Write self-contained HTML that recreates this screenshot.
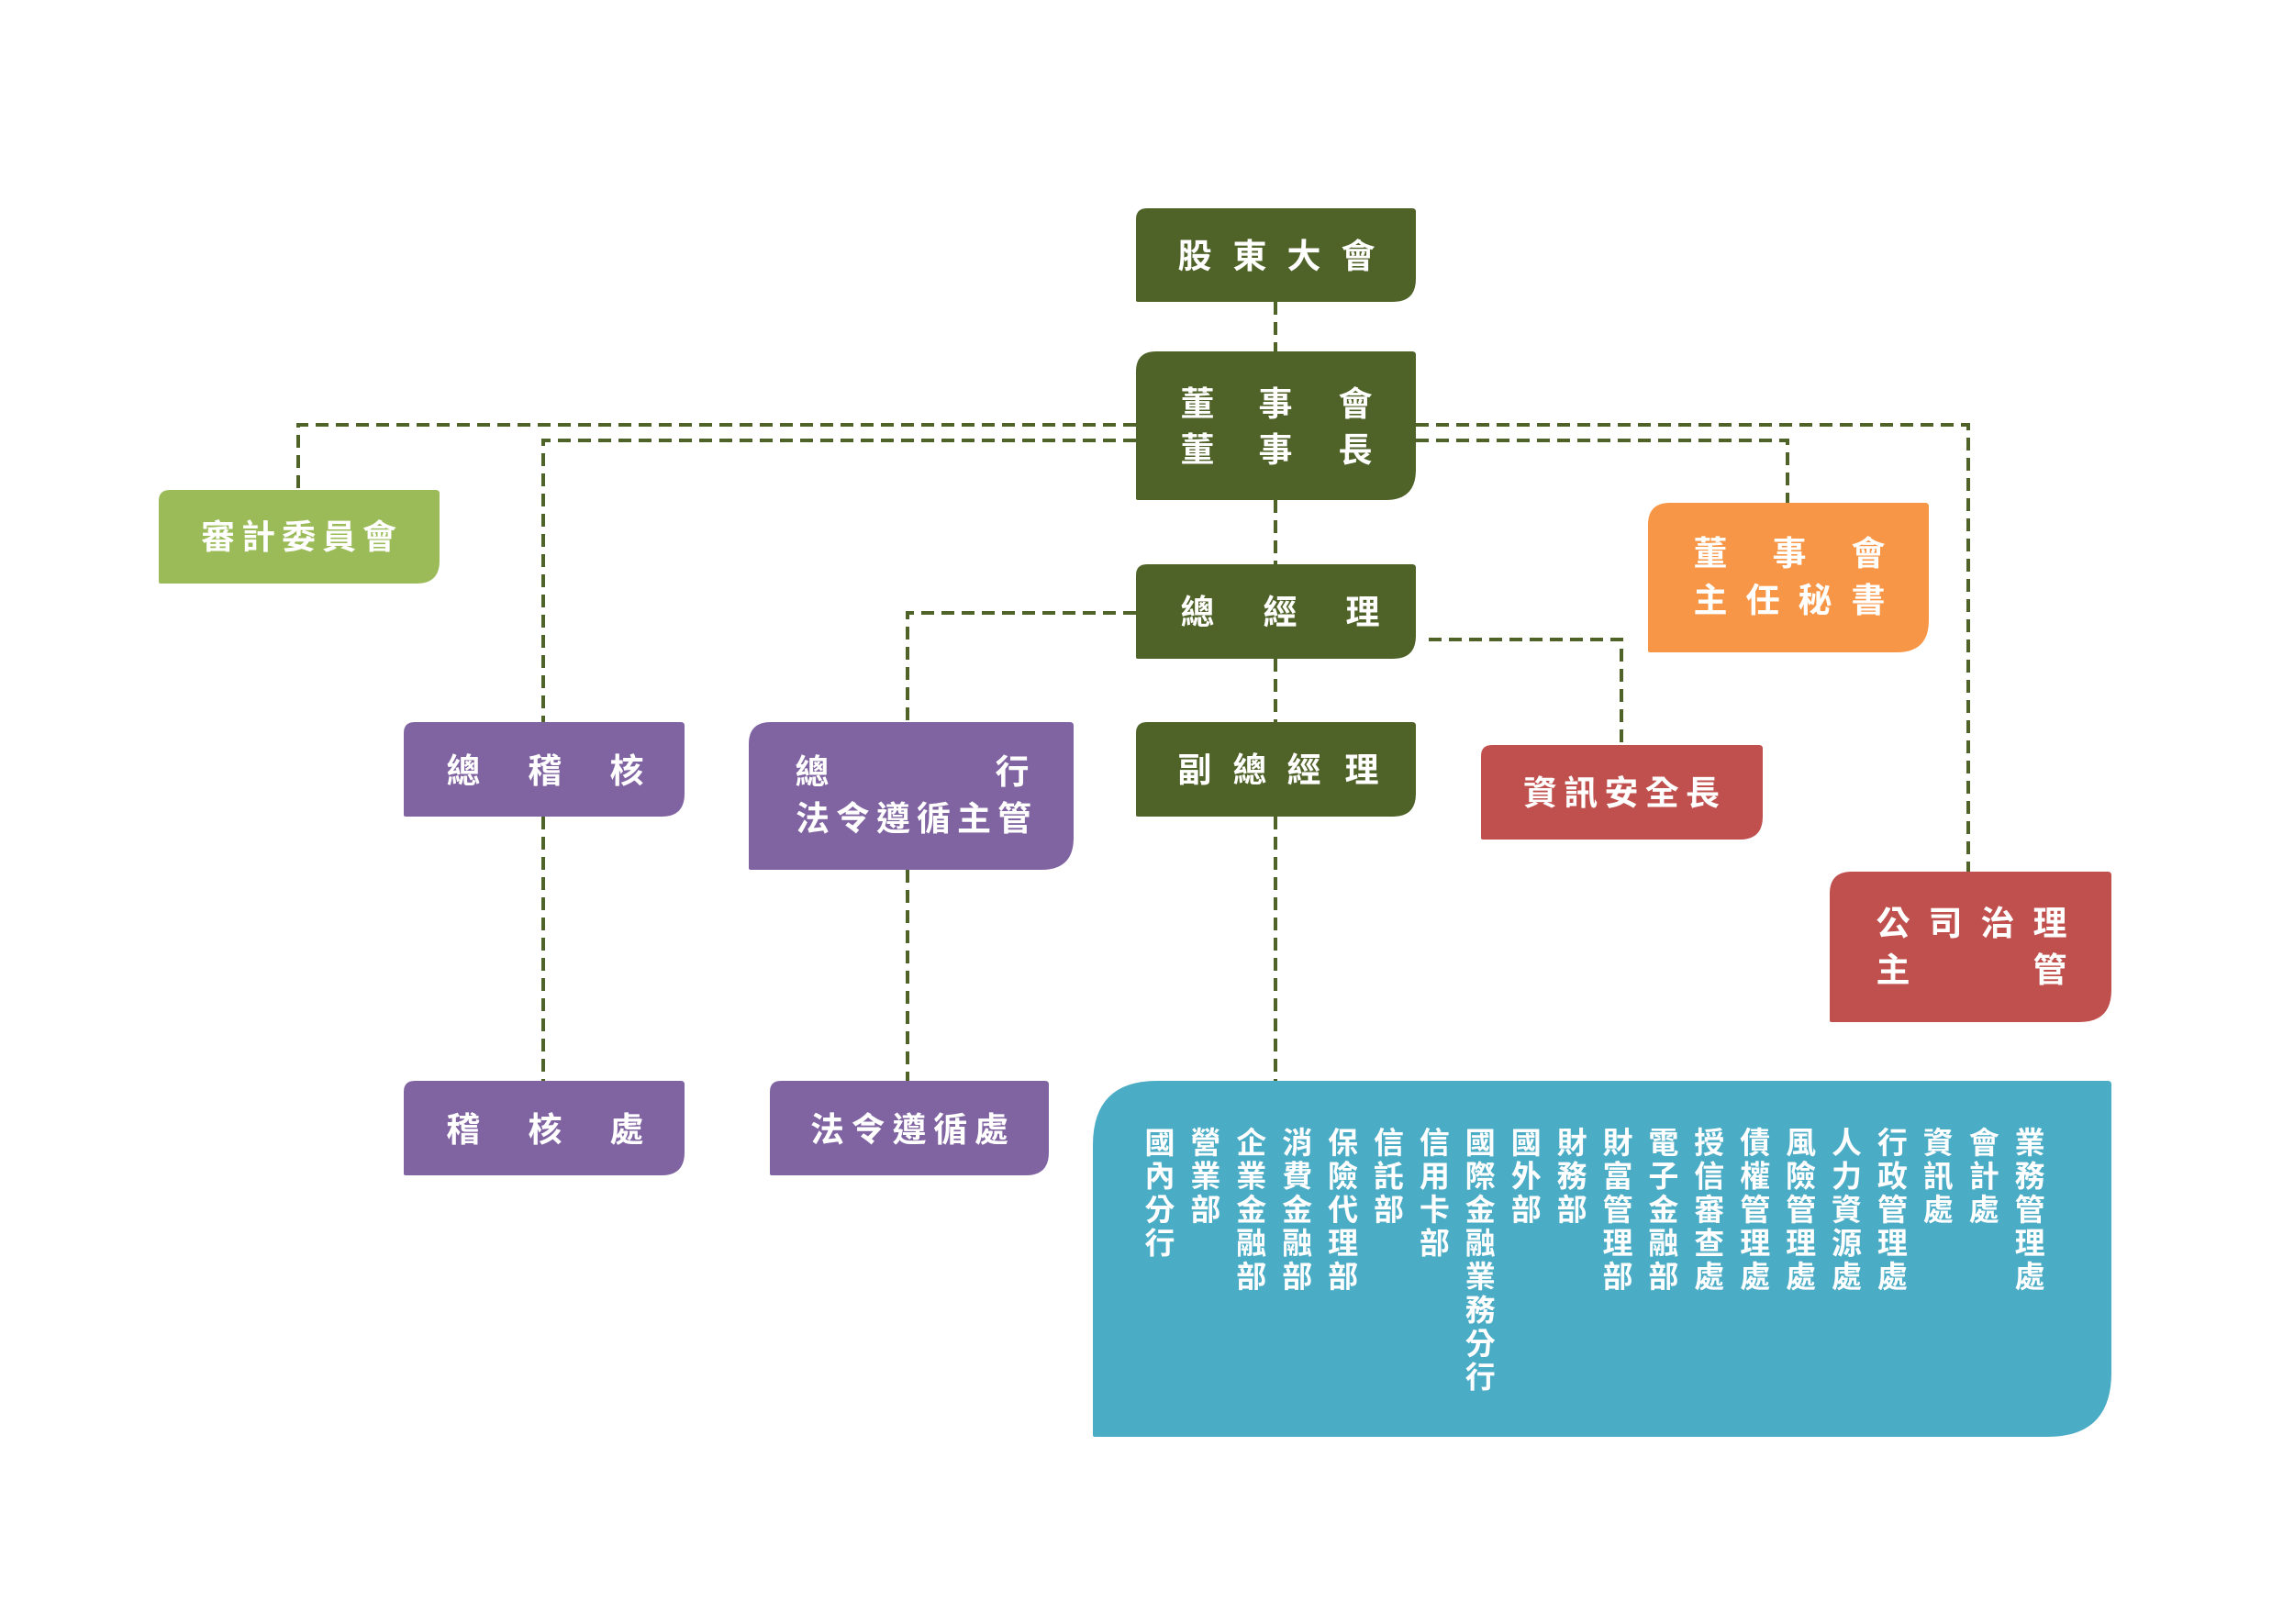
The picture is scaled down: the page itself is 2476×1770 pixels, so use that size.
<!DOCTYPE html>
<html><head><meta charset="utf-8"><style>
html,body{margin:0;padding:0;background:#fff;}
svg{display:block}
text{font-family:"Liberation Sans","Noto Sans CJK TC",sans-serif;fill:#fff;font-weight:bold;}
</style></head><body>
<svg width="2476" height="1770" viewBox="0 0 2476 1770" xmlns="http://www.w3.org/2000/svg">
<g fill="none" stroke="#4f6228" stroke-width="4" stroke-dasharray="14 8">
<path d="M1238 463 H325 V533"/>
<path d="M1238 480 H592 V787"/>
<path d="M1543 463 H2145 V950"/>
<path d="M1543 480 H1948 V548"/>
<path d="M1390 329 V383"/>
<path d="M1390 545 V615"/>
<path d="M1390 718 V787"/>
<path d="M1238 668 H989 V787"/>
<path d="M1557 697 H1767 V812"/>
<path d="M592 890 V1178"/>
<path d="M989 948 V1178"/>
<path d="M1390 890 V1178"/>
</g>
<g>
<path d="M1250 227 H1539 Q1543 227 1543 231 V304 Q1543 329 1518 329 H1240 Q1238 329 1238 327 V239 Q1238 227 1250 227Z" fill="#4f6228"/>
<path d="M1260 383 H1539 Q1543 383 1543 387 V512 Q1543 545 1510 545 H1240 Q1238 545 1238 543 V405 Q1238 383 1260 383Z" fill="#4f6228"/>
<path d="M1250 615 H1539 Q1543 615 1543 619 V693 Q1543 718 1518 718 H1240 Q1238 718 1238 716 V627 Q1238 615 1250 615Z" fill="#4f6228"/>
<path d="M1250 787 H1539 Q1543 787 1543 791 V865 Q1543 890 1518 890 H1240 Q1238 890 1238 888 V799 Q1238 787 1250 787Z" fill="#4f6228"/>
<path d="M185 534 H475 Q479 534 479 538 V611 Q479 636 454 636 H175 Q173 636 173 634 V546 Q173 534 185 534Z" fill="#9bbb59"/>
<path d="M1820 548 H2098 Q2102 548 2102 552 V676 Q2102 711 2067 711 H1798 Q1796 711 1796 709 V572 Q1796 548 1820 548Z" fill="#f79646"/>
<path d="M1626 812 H1917 Q1921 812 1921 816 V890 Q1921 915 1896 915 H1616 Q1614 915 1614 913 V824 Q1614 812 1626 812Z" fill="#c0504d"/>
<path d="M2018 950 H2297 Q2301 950 2301 954 V1079 Q2301 1114 2266 1114 H1996 Q1994 1114 1994 1112 V974 Q1994 950 2018 950Z" fill="#c0504d"/>
<path d="M452 787 H742 Q746 787 746 791 V865 Q746 890 721 890 H442 Q440 890 440 888 V799 Q440 787 452 787Z" fill="#8064a2"/>
<path d="M840 787 H1166 Q1170 787 1170 791 V913 Q1170 948 1135 948 H818 Q816 948 816 946 V811 Q816 787 840 787Z" fill="#8064a2"/>
<path d="M452 1178 H742 Q746 1178 746 1182 V1256 Q746 1281 721 1281 H442 Q440 1281 440 1279 V1190 Q440 1178 452 1178Z" fill="#8064a2"/>
<path d="M851 1178 H1139 Q1143 1178 1143 1182 V1256 Q1143 1281 1118 1281 H841 Q839 1281 839 1279 V1190 Q839 1178 851 1178Z" fill="#8064a2"/>
<path d="M1261 1178 H2297 Q2301 1178 2301 1182 V1496 Q2301 1566 2231 1566 H1193 Q1191 1566 1191 1564 V1248 Q1191 1178 1261 1178Z" fill="#4bacc6"/>
</g>
<g font-size="37">
<text x="1302" y="292" text-anchor="middle">股</text><text x="1362" y="292" text-anchor="middle">東</text><text x="1421" y="292" text-anchor="middle">大</text><text x="1480" y="292" text-anchor="middle">會</text>
<text x="1305" y="453" text-anchor="middle">董</text><text x="1390" y="453" text-anchor="middle">事</text><text x="1477" y="453" text-anchor="middle">會</text>
<text x="1305" y="503" text-anchor="middle">董</text><text x="1390" y="503" text-anchor="middle">事</text><text x="1477" y="503" text-anchor="middle">長</text>
<text x="1305" y="680" text-anchor="middle">總</text><text x="1395" y="680" text-anchor="middle">經</text><text x="1485" y="680" text-anchor="middle">理</text>
<text x="1302" y="852" text-anchor="middle">副</text><text x="1362" y="852" text-anchor="middle">總</text><text x="1421" y="852" text-anchor="middle">經</text><text x="1484" y="852" text-anchor="middle">理</text>
<text x="219" y="598" textLength="213" lengthAdjust="spacing">審計委員會</text>
<text x="1660" y="877" textLength="214" lengthAdjust="spacing">資訊安全長</text>
<text x="1864" y="616" text-anchor="middle">董</text><text x="1950" y="616" text-anchor="middle">事</text><text x="2036" y="616" text-anchor="middle">會</text>
<text x="1864" y="667" text-anchor="middle">主</text><text x="1921" y="667" text-anchor="middle">任</text><text x="1978" y="667" text-anchor="middle">秘</text><text x="2036" y="667" text-anchor="middle">書</text>
<text x="2063" y="1019" text-anchor="middle">公</text><text x="2120" y="1019" text-anchor="middle">司</text><text x="2177" y="1019" text-anchor="middle">治</text><text x="2234" y="1019" text-anchor="middle">理</text>
<text x="2063" y="1070" text-anchor="middle">主</text><text x="2234" y="1070" text-anchor="middle">管</text>
<text x="505" y="853" text-anchor="middle">總</text><text x="594" y="853" text-anchor="middle">稽</text><text x="683" y="853" text-anchor="middle">核</text>
<text x="505" y="1244" text-anchor="middle">稽</text><text x="594" y="1244" text-anchor="middle">核</text><text x="683" y="1244" text-anchor="middle">處</text>
<text x="885" y="854" text-anchor="middle">總</text><text x="1103" y="854" text-anchor="middle">行</text>
<text x="867" y="905" textLength="257" lengthAdjust="spacing">法令遵循主管</text>
<text x="883" y="1244" textLength="216" lengthAdjust="spacing">法令遵循處</text>
</g>
<g font-size="33" text-anchor="middle" id="cols"></g>
</svg>
<script>
var cols=["國內分行","營業部","企業金融部","消費金融部","保險代理部","信託部","信用卡部","國際金融業務分行","國外部","財務部","財富管理部","電子金融部","授信審查處","債權管理處","風險管理處","人力資源處","行政管理處","資訊處","會計處","業務管理處"];
var g=document.getElementById('cols'),ns="http://www.w3.org/2000/svg";
cols.forEach(function(s,i){for(var j=0;j<s.length;j++){var t=document.createElementNS(ns,'text');t.setAttribute('x',1264+i*49.9);t.setAttribute('y',1257+j*36.5);t.textContent=s[j];g.appendChild(t);}});
</script>
</body></html>
